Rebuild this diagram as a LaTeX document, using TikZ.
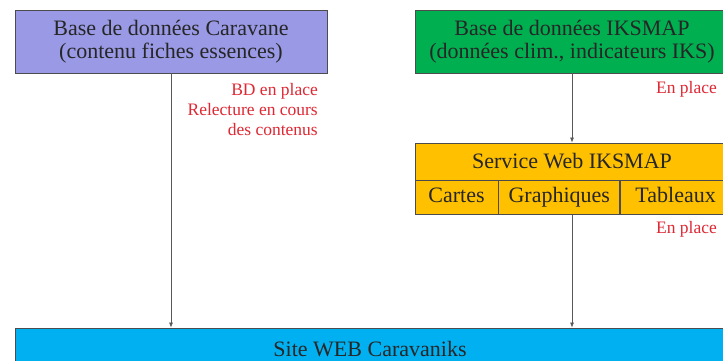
\documentclass[tikz,border=0pt]{standalone}
\usepackage{fontspec}
\setmainfont{Liberation Serif}
\usetikzlibrary{positioning,arrows.meta}

\definecolor{caravaneblue}{RGB}{153,153,230}
\definecolor{iksgreen}{RGB}{0,176,80}
\definecolor{servorange}{RGB}{255,192,0}
\definecolor{siteblue}{RGB}{0,176,240}
\definecolor{notered}{RGB}{222,40,52}

\begin{document}
\begin{tikzpicture}[x=1pt, y=-1pt,
    box/.style={draw=black!70, line width=0.8pt, inner sep=0pt, align=center,
        text=black!85, font=\fontsize{22}{23}\selectfont},
    cell/.style={box, minimum height=34pt, text height=14pt, text depth=4.5pt},
    note/.style={text=notered, align=right, inner sep=0pt,
        font=\fontsize{17.5}{20}\selectfont},
    link/.style={draw=black!65, line width=0.7pt, -{Latex[length=5pt,width=4pt]}},]
\clip (0,0) rectangle (723,361);
\fill[white] (0,0) rectangle (723,361);

% sources
\node[box, fill=caravaneblue, minimum width=312pt, minimum height=63pt] (caravane) at (171,41.5)
    {Base de données Caravane\\(contenu fiches essences)};
\node[box, fill=iksgreen, minimum width=314pt, minimum height=63pt] (iksmap) at (572,41.5)
    {Base de données IKSMAP\\(données clim., indicateurs IKS)};

% service web
\node[box, fill=servorange, minimum width=314pt, minimum height=37pt] (service) at (572,161.5)
    {Service Web IKSMAP};
\node[cell, fill=servorange, minimum width=83pt, anchor=north west] (cartes) at (service.south west) {Cartes};
\node[cell, fill=servorange, minimum width=121pt, right=0pt of cartes] (graphiques) {Graphiques};
\node[cell, fill=servorange, minimum width=110pt, right=0pt of graphiques] (tableaux) {Tableaux};

% site
\node[box, fill=siteblue, minimum width=710pt, minimum height=42pt] (site) at (370,349)
    {Site WEB Caravaniks};

% notes
\node[note, anchor=east] (notecaravane) at (318,110) {BD en place\\Relecture en cours\\des contenus};
\node[note, anchor=east] (noteiksmap) at (717,89) {En place};
\node[note, anchor=east] (noteservice) at (717,229) {En place};

% liens
\draw[link] (caravane.south) -- (caravane.south |- site.north);
\draw[link] (iksmap.south) -- (service.north);
\draw[link] (service.south |- graphiques.south) -- (service.south |- site.north);

\end{tikzpicture}
\end{document}
